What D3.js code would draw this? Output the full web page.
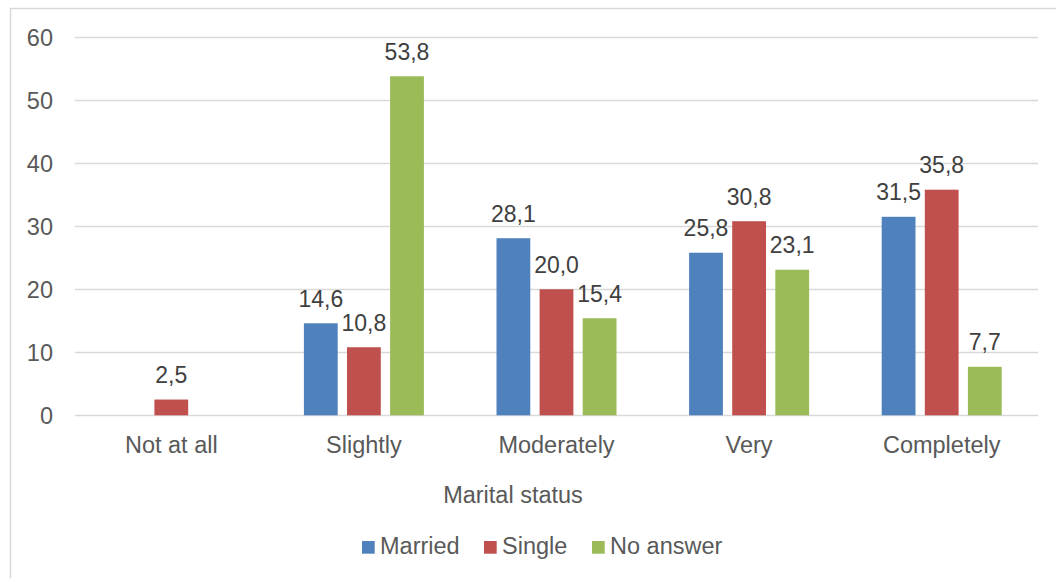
<!DOCTYPE html>
<html>
<head>
<meta charset="utf-8">
<script src="https://cdn.jsdelivr.net/npm/d3@7"></script>
<style>
  html, body { margin: 0; padding: 0; background: #fff; }
  svg { display: block; font-family: "Liberation Sans", Arial, sans-serif; }
</style>
</head>
<body>
<svg id="chart" width="1056" height="578"></svg>
<script>
// Categories on the x axis
const categories = ["Not at all", "Slightly", "Moderately", "Very", "Completely"];
// Series (percent)
const seriesNames = ["Married", "Single", "No answer"];
const married  = [null, 14.6, 28.1, 25.8, 31.5];
const single   = [2.5, 10.8, 20.0, 30.8, 35.8];
const noAnswer = [null, 53.8, 15.4, 23.1, 7.7];
const yTicks = [0, 10, 20, 30, 40, 50, 60];
const colors = ["#4F81BD", "#C0504D", "#9BBB59"];
const axisTitle = "Marital status";

const seriesValues = [married, single, noAnswer];

const svg = d3.select("#chart");
const W = 1056, H = 578;
const FS = 23.5;

// Outer chart-area frame
svg.append("rect")
  .attr("x", 10.5).attr("y", 8.5)
  .attr("width", W + 20).attr("height", H + 20)
  .attr("fill", "#fff").attr("stroke", "#d9d9d9").attr("stroke-width", 1.5);

const plot = { left: 75, right: 1038, top: 37.2, bottom: 415.3 };

const y = d3.scaleLinear().domain([0, 60]).range([plot.bottom, plot.top]);
const x0 = d3.scaleBand().domain(categories).range([plot.left, plot.right]).padding(0);
const x1 = d3.scaleBand().domain(seriesNames).range([-60, 60]).paddingInner(0.216).paddingOuter(0);

// Gridlines
svg.append("g")
  .selectAll("line")
  .data(yTicks)
  .join("line")
  .attr("x1", plot.left).attr("x2", plot.right)
  .attr("y1", d => Math.round(y(d)) + 0.5).attr("y2", d => Math.round(y(d)) + 0.5)
  .attr("stroke", "#d9d9d9").attr("stroke-width", 1.5);

// Y tick labels
svg.append("g")
  .selectAll("text")
  .data(yTicks)
  .join("text")
  .attr("x", 53).attr("y", d => y(d) + 8.5)
  .attr("text-anchor", "end")
  .attr("font-size", FS).attr("fill", "#595959")
  .text(d => d);

// Bars
const fmt = v => d3.format(".1f")(v).replace(".", ",");
const groups = svg.append("g")
  .selectAll("g")
  .data(categories)
  .join("g")
  .attr("transform", d => `translate(${x0(d) + x0.bandwidth() / 2},0)`);

groups.each(function (cat, ci) {
  const g = d3.select(this);
  const rows = seriesNames.map((s, si) => ({ s, si, v: seriesValues[si][ci] }))
    .filter(d => d.v != null);
  g.selectAll("rect")
    .data(rows)
    .join("rect")
    .attr("x", d => x1(d.s))
    .attr("y", d => y(d.v))
    .attr("width", x1.bandwidth())
    .attr("height", d => y(0) - y(d.v))
    .attr("fill", d => colors[d.si]);
  g.selectAll("text")
    .data(rows)
    .join("text")
    .attr("x", d => x1(d.s) + x1.bandwidth() / 2)
    .attr("y", d => y(d.v) - 16.5)
    .attr("text-anchor", "middle")
    .attr("font-size", 23).attr("fill", "#404040")
    .text(d => fmt(d.v));
});

// Category labels
svg.append("g")
  .selectAll("text")
  .data(categories)
  .join("text")
  .attr("x", d => x0(d) + x0.bandwidth() / 2)
  .attr("y", 452.5)
  .attr("text-anchor", "middle")
  .attr("font-size", FS).attr("fill", "#595959")
  .text(d => d);

// Axis title
svg.append("text")
  .attr("x", 513).attr("y", 503)
  .attr("text-anchor", "middle")
  .attr("font-size", FS).attr("fill", "#595959")
  .text(axisTitle);

// Legend
const legendX = [362, 484, 592];
const leg = svg.append("g")
  .selectAll("g")
  .data(seriesNames)
  .join("g")
  .attr("transform", (d, i) => `translate(${legendX[i]},541)`);
leg.append("rect")
  .attr("width", 12.7).attr("height", 12.7)
  .attr("fill", (d, i) => colors[i]);
leg.append("text")
  .attr("x", 18).attr("y", 12.5)
  .attr("font-size", FS).attr("fill", "#595959")
  .text(d => d);
</script>
</body>
</html>
